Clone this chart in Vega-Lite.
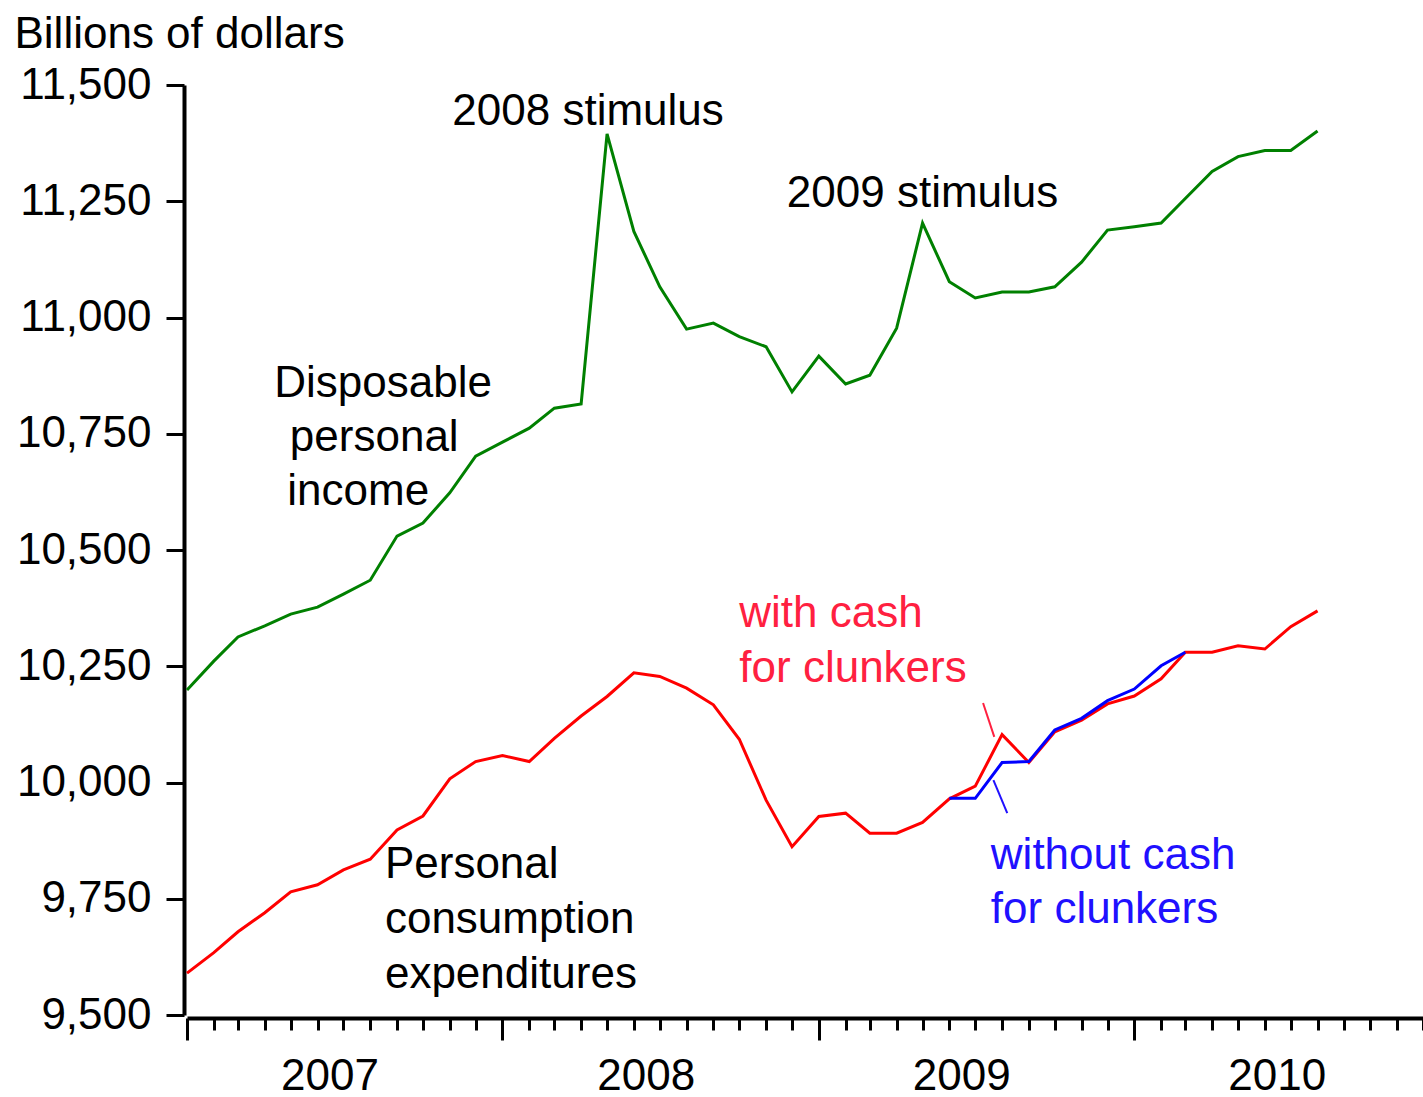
{
  "$schema": "https://vega.github.io/schema/vega-lite/v6.json",
  "width": 1236,
  "height": 930,
  "autosize": "none",
  "padding": {"left": 187, "top": 85, "right": 0, "bottom": 82},
  "background": "white",
  "config": {
    "font": "Liberation Sans",
    "view": {"stroke": null},
    "axis": {"grid": false, "domainColor": "black", "tickColor": "black", "labelColor": "black", "titleColor": "black", "labelFont": "Liberation Sans", "titleFont": "Liberation Sans"}
  },
  "datasets": {
    "series": [
      {"date": "2007-01-01", "value": 10199, "series": "DPI"},
      {"date": "2007-02-01", "value": 10261, "series": "DPI"},
      {"date": "2007-03-01", "value": 10313, "series": "DPI"},
      {"date": "2007-04-01", "value": 10337, "series": "DPI"},
      {"date": "2007-05-01", "value": 10362, "series": "DPI"},
      {"date": "2007-06-01", "value": 10377, "series": "DPI"},
      {"date": "2007-07-01", "value": 10405, "series": "DPI"},
      {"date": "2007-08-01", "value": 10435, "series": "DPI"},
      {"date": "2007-09-01", "value": 10530, "series": "DPI"},
      {"date": "2007-10-01", "value": 10558, "series": "DPI"},
      {"date": "2007-11-01", "value": 10623, "series": "DPI"},
      {"date": "2007-12-01", "value": 10702, "series": "DPI"},
      {"date": "2008-01-01", "value": 10732, "series": "DPI"},
      {"date": "2008-02-01", "value": 10762, "series": "DPI"},
      {"date": "2008-03-01", "value": 10805, "series": "DPI"},
      {"date": "2008-04-01", "value": 10814, "series": "DPI"},
      {"date": "2008-05-01", "value": 11395, "series": "DPI"},
      {"date": "2008-06-01", "value": 11185, "series": "DPI"},
      {"date": "2008-07-01", "value": 11066, "series": "DPI"},
      {"date": "2008-08-01", "value": 10975, "series": "DPI"},
      {"date": "2008-09-01", "value": 10988, "series": "DPI"},
      {"date": "2008-10-01", "value": 10959, "series": "DPI"},
      {"date": "2008-11-01", "value": 10937, "series": "DPI"},
      {"date": "2008-12-01", "value": 10840, "series": "DPI"},
      {"date": "2009-01-01", "value": 10917, "series": "DPI"},
      {"date": "2009-02-01", "value": 10857, "series": "DPI"},
      {"date": "2009-03-01", "value": 10876, "series": "DPI"},
      {"date": "2009-04-01", "value": 10977, "series": "DPI"},
      {"date": "2009-05-01", "value": 11203, "series": "DPI"},
      {"date": "2009-06-01", "value": 11077, "series": "DPI"},
      {"date": "2009-07-01", "value": 11042, "series": "DPI"},
      {"date": "2009-08-01", "value": 11055, "series": "DPI"},
      {"date": "2009-09-01", "value": 11055, "series": "DPI"},
      {"date": "2009-10-01", "value": 11066, "series": "DPI"},
      {"date": "2009-11-01", "value": 11119, "series": "DPI"},
      {"date": "2009-12-01", "value": 11188, "series": "DPI"},
      {"date": "2010-01-01", "value": 11195, "series": "DPI"},
      {"date": "2010-02-01", "value": 11203, "series": "DPI"},
      {"date": "2010-03-01", "value": 11256, "series": "DPI"},
      {"date": "2010-04-01", "value": 11314, "series": "DPI"},
      {"date": "2010-05-01", "value": 11346, "series": "DPI"},
      {"date": "2010-06-01", "value": 11359, "series": "DPI"},
      {"date": "2010-07-01", "value": 11359, "series": "DPI"},
      {"date": "2010-08-01", "value": 11401, "series": "DPI"},
      {"date": "2007-01-01", "value": 9590, "series": "PCE"},
      {"date": "2007-02-01", "value": 9634, "series": "PCE"},
      {"date": "2007-03-01", "value": 9679, "series": "PCE"},
      {"date": "2007-04-01", "value": 9720, "series": "PCE"},
      {"date": "2007-05-01", "value": 9765, "series": "PCE"},
      {"date": "2007-06-01", "value": 9780, "series": "PCE"},
      {"date": "2007-07-01", "value": 9812, "series": "PCE"},
      {"date": "2007-08-01", "value": 9835, "series": "PCE"},
      {"date": "2007-09-01", "value": 9898, "series": "PCE"},
      {"date": "2007-10-01", "value": 9928, "series": "PCE"},
      {"date": "2007-11-01", "value": 10008, "series": "PCE"},
      {"date": "2007-12-01", "value": 10045, "series": "PCE"},
      {"date": "2008-01-01", "value": 10058, "series": "PCE"},
      {"date": "2008-02-01", "value": 10045, "series": "PCE"},
      {"date": "2008-03-01", "value": 10095, "series": "PCE"},
      {"date": "2008-04-01", "value": 10143, "series": "PCE"},
      {"date": "2008-05-01", "value": 10185, "series": "PCE"},
      {"date": "2008-06-01", "value": 10236, "series": "PCE"},
      {"date": "2008-07-01", "value": 10228, "series": "PCE"},
      {"date": "2008-08-01", "value": 10203, "series": "PCE"},
      {"date": "2008-09-01", "value": 10167, "series": "PCE"},
      {"date": "2008-10-01", "value": 10093, "series": "PCE"},
      {"date": "2008-11-01", "value": 9962, "series": "PCE"},
      {"date": "2008-12-01", "value": 9862, "series": "PCE"},
      {"date": "2009-01-01", "value": 9927, "series": "PCE"},
      {"date": "2009-02-01", "value": 9934, "series": "PCE"},
      {"date": "2009-03-01", "value": 9891, "series": "PCE"},
      {"date": "2009-04-01", "value": 9891, "series": "PCE"},
      {"date": "2009-05-01", "value": 9914, "series": "PCE"},
      {"date": "2009-06-01", "value": 9965, "series": "PCE"},
      {"date": "2009-07-01", "value": 9992, "series": "PCE"},
      {"date": "2009-08-01", "value": 10103, "series": "PCE"},
      {"date": "2009-09-01", "value": 10043, "series": "PCE"},
      {"date": "2009-10-01", "value": 10109, "series": "PCE"},
      {"date": "2009-11-01", "value": 10134, "series": "PCE"},
      {"date": "2009-12-01", "value": 10169, "series": "PCE"},
      {"date": "2010-01-01", "value": 10186, "series": "PCE"},
      {"date": "2010-02-01", "value": 10223, "series": "PCE"},
      {"date": "2010-03-01", "value": 10280, "series": "PCE"},
      {"date": "2010-04-01", "value": 10280, "series": "PCE"},
      {"date": "2010-05-01", "value": 10294, "series": "PCE"},
      {"date": "2010-06-01", "value": 10287, "series": "PCE"},
      {"date": "2010-07-01", "value": 10335, "series": "PCE"},
      {"date": "2010-08-01", "value": 10369, "series": "PCE"},
      {"date": "2009-06-01", "value": 9966, "series": "PCE without"},
      {"date": "2009-07-01", "value": 9966, "series": "PCE without"},
      {"date": "2009-08-01", "value": 10043, "series": "PCE without"},
      {"date": "2009-09-01", "value": 10045, "series": "PCE without"},
      {"date": "2009-10-01", "value": 10113, "series": "PCE without"},
      {"date": "2009-11-01", "value": 10138, "series": "PCE without"},
      {"date": "2009-12-01", "value": 10176, "series": "PCE without"},
      {"date": "2010-01-01", "value": 10201, "series": "PCE without"},
      {"date": "2010-02-01", "value": 10251, "series": "PCE without"},
      {"date": "2010-03-01", "value": 10280, "series": "PCE without"}
    ],
    "notes": [
      {"date": "2007-11-04", "value": 11414, "text": "2008 stimulus", "group": "plain"},
      {"date": "2008-11-25", "value": 11238, "text": "2009 stimulus", "group": "plain"},
      {"date": "2007-04-12", "value": 10829, "text": "Disposable", "group": "plain"},
      {"date": "2007-04-30", "value": 10713, "text": "personal", "group": "plain"},
      {"date": "2007-04-27", "value": 10597, "text": "income", "group": "plain"},
      {"date": "2007-08-18", "value": 9794, "text": "Personal", "group": "plain"},
      {"date": "2007-08-18", "value": 9676, "text": "consumption", "group": "plain"},
      {"date": "2007-08-18", "value": 9557, "text": "expenditures", "group": "plain"},
      {"date": "2008-10-01", "value": 10335, "text": "with cash", "group": "with"},
      {"date": "2008-10-01", "value": 10217, "text": "for clunkers", "group": "with"},
      {"date": "2009-07-19", "value": 9815, "text": "without cash", "group": "without"},
      {"date": "2009-07-19", "value": 9697, "text": "for clunkers", "group": "without"}
    ],
    "pointers": [
      {"date": "2009-07-10", "value": 10171, "date2": "2009-07-23", "value2": 10098, "group": "with"},
      {"date": "2009-07-22", "value": 10005, "date2": "2009-08-07", "value2": 9934, "group": "without"}
    ]
  },
  "encoding": {
    "x": {
      "field": "date", "type": "temporal",
      "scale": {"type": "utc", "domain": [{"year": 2007, "month": 1, "date": 1, "utc": true}, {"year": 2010, "month": 12, "date": 1, "utc": true}]},
      "axis": {
        "title": null, "orient": "bottom", "offset": 3,
        "domainWidth": 4, "tickWidth": 3,
        "tickCount": {"interval": "month", "step": 1},
        "tickSize": {"condition": {"test": "utcmonth(datum.value) == 0", "value": 22}, "value": 12},
        "labelExpr": "utcmonth(datum.value) == 6 ? utcFormat(datum.value, '%Y') : ''",
        "labelOffset": -14, "labelPadding": 24, "labelFontSize": 44,
        "labelOverlap": false, "labelFlush": false, "labelBound": false
      }
    },
    "y": {
      "field": "value", "type": "quantitative",
      "scale": {"domain": [9500, 11500], "nice": false, "zero": false},
      "axis": {
        "values": [9500, 9750, 10000, 10250, 10500, 10750, 11000, 11250, 11500],
        "format": ",d", "offset": 3, "domainWidth": 4, "tickWidth": 3, "tickSize": 18,
        "labelPadding": 15, "labelFontSize": 44,
        "title": "Billions of dollars", "titleAngle": 0, "titleAlign": "left", "titleBaseline": "alphabetic",
        "titleX": -170, "titleY": -38, "titleFontSize": 44, "titleFontWeight": "normal"
      }
    }
  },
  "layer": [
    {
      "data": {"name": "series"},
      "transform": [{"filter": "datum.series === 'DPI'"}],
      "mark": {"type": "line", "strokeWidth": 3, "color": "#008000"}
    },
    {
      "data": {"name": "series"},
      "transform": [{"filter": "datum.series === 'PCE'"}],
      "mark": {"type": "line", "strokeWidth": 3, "color": "#ff0000"}
    },
    {
      "data": {"name": "series"},
      "transform": [{"filter": "datum.series === 'PCE without'"}],
      "mark": {"type": "line", "strokeWidth": 3, "color": "#0000ff"}
    },
    {
      "data": {"name": "pointers"},
      "mark": {"type": "rule", "strokeWidth": 2},
      "encoding": {
        "x2": {"field": "date2"},
        "y2": {"field": "value2"},
        "color": {"field": "group", "type": "nominal", "scale": {"domain": ["plain", "with", "without"], "range": ["#000000", "#ff2040", "#2010ff"]}, "legend": null}
      }
    },
    {
      "data": {"name": "notes"},
      "mark": {"type": "text", "align": "left", "baseline": "alphabetic", "fontSize": 44, "font": "Liberation Sans"},
      "encoding": {
        "text": {"field": "text"},
        "color": {"field": "group", "type": "nominal", "scale": {"domain": ["plain", "with", "without"], "range": ["#000000", "#ff2040", "#2010ff"]}, "legend": null}
      }
    }
  ]
}
